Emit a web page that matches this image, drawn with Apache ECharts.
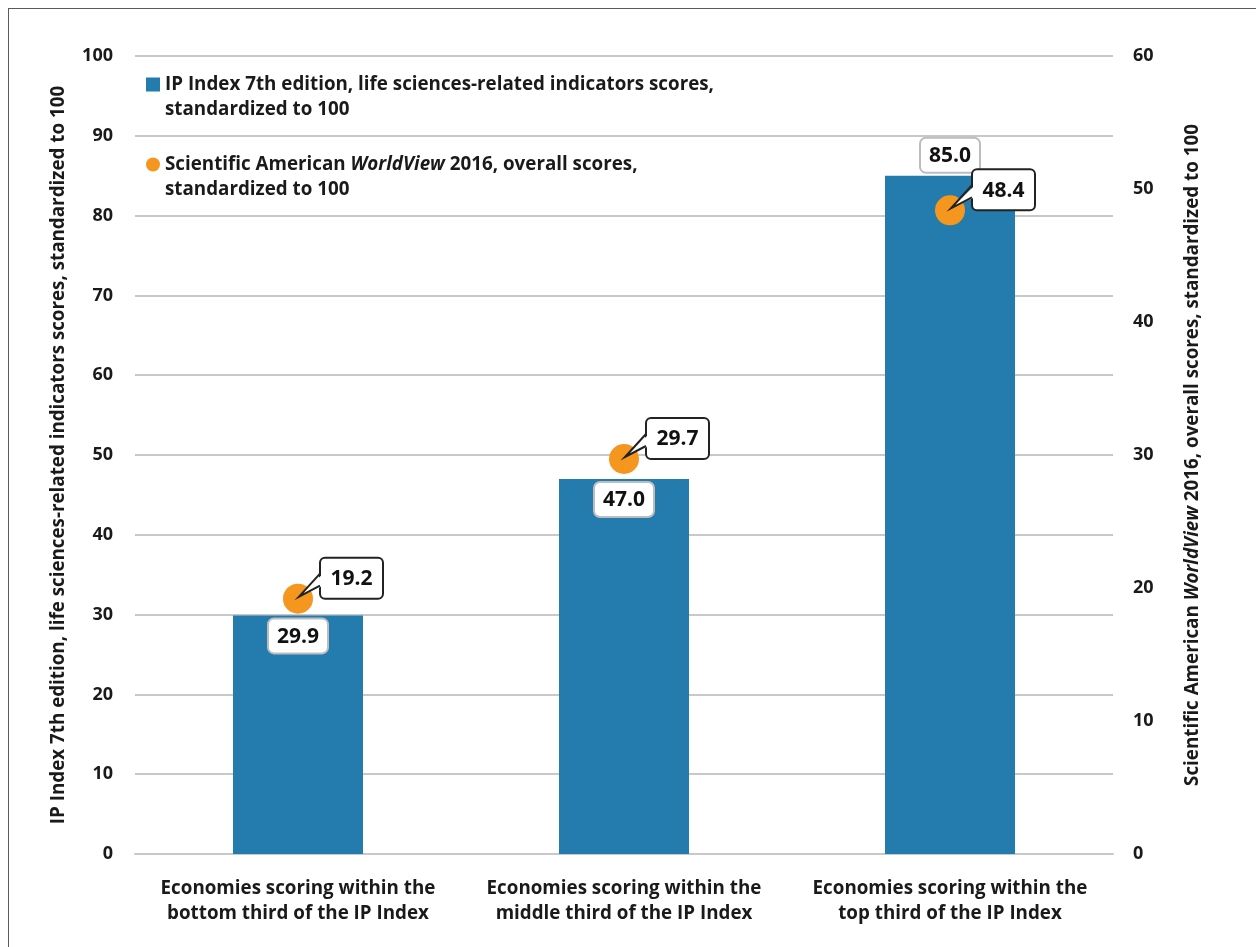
<!DOCTYPE html>
<html>
<head>
<meta charset="utf-8">
<script src="https://cdn.jsdelivr.net/npm/echarts@6/dist/echarts.min.js"></script>
<style>
  html, body { margin: 0; padding: 0; background: #fff; }
  #frame { position: absolute; left: 8px; top: 8px; width: 1260px; height: 950px; border-left: 1.5px solid #5a5a5a; border-top: 1.5px solid #5a5a5a; pointer-events: none; }
  #chart { position: absolute; left: 0; top: 0; width: 1256px; height: 947px; }
</style>
</head>
<body>
<div id="chart"></div>
<div id="frame"></div>
<script>
const categories = [
  'Economies scoring within the\nbottom third of the IP Index',
  'Economies scoring within the\nmiddle third of the IP Index',
  'Economies scoring within the\ntop third of the IP Index'
];
const ipIndexScores = [29.9, 47.0, 85.0];
const worldViewScores = [19.2, 29.7, 48.4];
const barLabelPositions = ['insideTop', 'insideTop', 'top'];
const seriesNames = [
  'IP Index 7th edition, life sciences-related indicators scores, standardized to 100',
  'Scientific American WorldView 2016, overall scores, standardized to 100'
];
const legendTexts = [
  'IP Index 7th edition, life sciences-related indicators scores,\nstandardized to 100',
  'Scientific American {i|WorldView} 2016, overall scores,\nstandardized to 100'
];
const leftAxisName = 'IP Index 7th edition, life sciences-related indicators scores, standardized to 100';
const rightAxisName = 'Scientific American {i|WorldView} 2016, overall scores, standardized to 100';

const FONT = '"Open Sans", "Noto Sans", sans-serif';
const FW = 'bold';
const FS = 18.8;
const TXT = '#1a1a1a';
const GRID = '#c8c8c8';
const BLUE = '#247bae';
const ORANGE = '#f5961e';

const chart = echarts.init(document.getElementById('chart'), null, { renderer: 'canvas' });

const option = {
  animation: false,
  backgroundColor: 'transparent',
  textStyle: { fontFamily: FONT, color: TXT },
  grid: { left: 135, right: 143, top: 56, bottom: 93, containLabel: false },
  legend: {
    orient: 'vertical',
    left: 146, top: 47,
    padding: 0,
    itemGap: 5,
    itemWidth: 14, itemHeight: 14,
    selectedMode: false,
    data: [
      { name: seriesNames[0], icon: 'rect' },
      { name: seriesNames[1], icon: 'circle' }
    ],
    formatter: function (name) { return legendTexts[seriesNames.indexOf(name)]; },
    textStyle: {
      fontSize: FS, fontWeight: FW, color: TXT, lineHeight: 25,
      padding: [25, 0, 0, 0],
      rich: { i: { fontStyle: 'italic', fontWeight: FW, fontSize: FS, lineHeight: 25, color: TXT } }
    }
  },
  xAxis: {
    type: 'category',
    data: categories,
    axisTick: { show: false },
    axisLine: { lineStyle: { color: GRID, width: 2 } },
    axisLabel: { fontSize: FS, fontWeight: FW, color: TXT, lineHeight: 25, margin: 22, interval: 0 }
  },
  yAxis: [
    {
      type: 'value', min: 0, max: 100, interval: 10,
      position: 'left',
      axisLine: { show: false }, axisTick: { show: false },
      axisLabel: { fontSize: 18, fontWeight: FW, color: TXT, margin: 22 },
      splitLine: { lineStyle: { color: GRID, width: 2 } },
      name: leftAxisName,
      nameLocation: 'middle', nameRotate: 90, nameGap: 67,
      nameTextStyle: { fontSize: FS, fontWeight: FW, color: TXT }
    },
    {
      type: 'value', min: 0, max: 60, interval: 10,
      position: 'right',
      axisLine: { show: false }, axisTick: { show: false },
      axisLabel: { fontSize: 18, fontWeight: FW, color: TXT, margin: 20 },
      splitLine: { show: false },
      name: rightAxisName,
      nameLocation: 'middle', nameRotate: 90, nameGap: 70,
      nameTextStyle: {
        fontSize: FS, fontWeight: FW, color: TXT,
        rich: { i: { fontStyle: 'italic', fontWeight: FW, fontSize: FS, color: TXT } }
      }
    }
  ],
  series: [
    {
      name: seriesNames[0],
      type: 'bar',
      barWidth: 130,
      itemStyle: { color: BLUE },
      data: ipIndexScores.map((v, i) => ({
        value: v,
        label: { position: barLabelPositions[i] }
      })),
      label: {
        show: true,
        distance: 4,
        formatter: p => p.value.toFixed(1),
        fontSize: 21, fontWeight: 'bold', color: '#111',
        backgroundColor: '#fff',
        borderColor: '#bdbdbd', borderWidth: 2, borderRadius: 5,
        padding: [7, 8, 5, 8]
      },
      z: 2
    },
    {
      name: seriesNames[1],
      type: 'scatter',
      yAxisIndex: 1,
      symbol: 'circle',
      symbolSize: 30,
      itemStyle: { color: ORANGE, opacity: 1 },
      data: worldViewScores,
      z: 3
    },
    {
      name: 'callouts',
      type: 'custom',
      yAxisIndex: 1,
      data: worldViewScores.map((v, i) => [i, v]),
      encode: { x: 0, y: 1 },
      z: 4,
      silent: true,
      renderItem: function (params, api) {
        const p = api.coord([api.value(0), api.value(1)]);
        const W = 63, H = 41;
        const L = p[0] + 22, T = p[1] - 41;
        const b1 = T + 16, b2 = T + 28;
        const tx = p[0] + 1, ty = p[1] - 2;
        return {
          type: 'group',
          children: [
            { type: 'rect', shape: { x: L, y: T, width: W, height: H, r: 5 },
              style: { fill: '#fff', stroke: '#222', lineWidth: 2 } },
            { type: 'polygon', shape: { points: [[L + 3, b1], [tx, ty], [L + 3, b2]] },
              style: { fill: '#fff', stroke: null } },
            { type: 'polyline', shape: { points: [[L, b1], [tx, ty], [L, b2]] },
              style: { fill: null, stroke: '#222', lineWidth: 2 } },
            { type: 'text',
              style: { text: api.value(1).toFixed(1), x: L + W / 2, y: T + H / 2 + 1,
                       align: 'center', verticalAlign: 'middle',
                       textAlign: 'center', textVerticalAlign: 'middle',
                       fontSize: 21, fontWeight: 'bold', fontFamily: FONT, fill: '#111' } }
          ]
        };
      }
    }
  ]
};
chart.setOption(option);
</script>
</body>
</html>
